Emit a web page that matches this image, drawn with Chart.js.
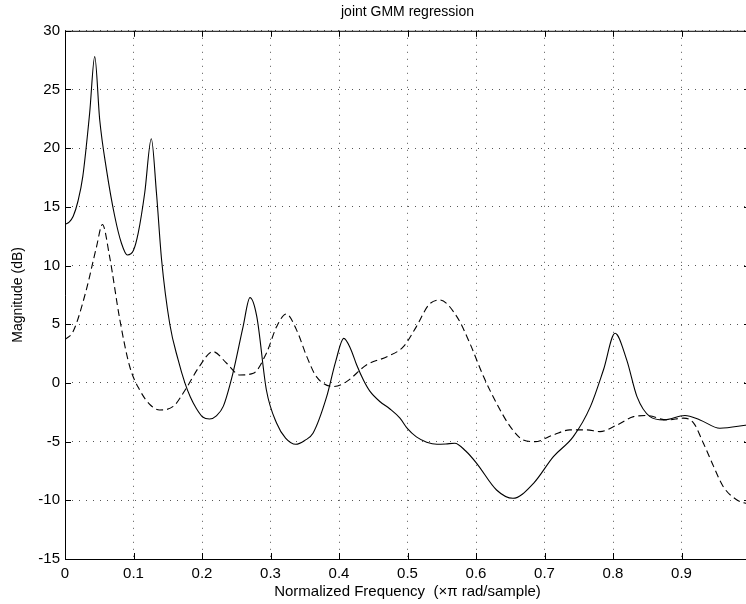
<!DOCTYPE html>
<html>
<head>
<meta charset="utf-8">
<script src="https://cdn.jsdelivr.net/npm/chart.js@4/dist/chart.umd.min.js"></script>
<style>
html,body{margin:0;padding:0;background:#fff;overflow:hidden;}
#wrap{width:750px;height:604px;}
</style>
</head>
<body>
<div id="wrap"><canvas id="c" width="750" height="604"></canvas></div>
<script>
const titleText = "joint GMM regression";
const xLabel = "Normalized Frequency  (\u00d7\u03c0 rad/sample)";
const yLabel = "Magnitude (dB)";
const xTicks = [0, 0.1, 0.2, 0.3, 0.4, 0.5, 0.6, 0.7, 0.8, 0.9];
const yTicks = [-15, -10, -5, 0, 5, 10, 15, 20, 25, 30];

const solidX = [0, 0.006, 0.012, 0.019, 0.026, 0.036, 0.0434, 0.0507, 0.0605, 0.0726, 0.0824, 0.091, 0.100, 0.107, 0.1164, 0.126, 0.1335, 0.141, 0.153, 0.165, 0.175, 0.183, 0.192, 0.201, 0.211, 0.221, 0.231, 0.245, 0.26, 0.270, 0.28, 0.294, 0.309, 0.322, 0.337, 0.35, 0.362, 0.382, 0.395, 0.407, 0.417, 0.426, 0.436, 0.445, 0.46, 0.474, 0.489, 0.50, 0.513, 0.528, 0.543, 0.556, 0.569, 0.585, 0.601, 0.630, 0.654, 0.684, 0.713, 0.742, 0.767, 0.786, 0.803, 0.820, 0.835, 0.854, 0.874, 0.905, 0.927, 0.956, 0.996];
const solidY = [13.5, 13.7, 14.2, 15.5, 17.6, 23.0, 27.8, 22.4, 18.2, 14.2, 11.9, 10.9, 11.3, 12.8, 16.2, 20.8, 16.2, 10.5, 5.0, 2.0, 0.0, -1.2, -2.2, -2.9, -3.07, -2.8, -2.0, 0.8, 4.8, 7.27, 5.65, -0.6, -3.44, -4.7, -5.23, -4.9, -4.29, -1.17, 1.8, 3.8, 2.9, 1.5, 0.2, -0.7, -1.6, -2.2, -3.0, -3.9, -4.6, -5.05, -5.23, -5.2, -5.14, -5.8, -6.85, -9.12, -9.83, -8.55, -6.28, -4.58, -2.02, 1.1, 4.23, 1.96, -1.17, -2.87, -3.15, -2.78, -3.15, -3.86, -3.58];

const dashedX = [0, 0.012, 0.031, 0.046, 0.0546, 0.065, 0.080, 0.0945, 0.109, 0.125, 0.138, 0.158, 0.177, 0.195, 0.216, 0.236, 0.255, 0.275, 0.294, 0.309, 0.323, 0.338, 0.353, 0.367, 0.392, 0.411, 0.440, 0.470, 0.494, 0.513, 0.531, 0.547, 0.572, 0.591, 0.611, 0.630, 0.650, 0.669, 0.686, 0.713, 0.737, 0.762, 0.781, 0.806, 0.830, 0.849, 0.879, 0.903, 0.918, 0.932, 0.947, 0.961, 0.981, 0.996];
const dashedY = [3.7, 4.4, 7.9, 11.6, 13.5, 10.8, 5.4, 1.4, -0.6, -1.9, -2.3, -2.0, -0.45, 1.3, 2.67, 1.68, 0.68, 0.82, 2.53, 4.8, 5.88, 4.52, 2.24, 0.54, -0.31, 0.11, 1.53, 2.24, 3.09, 4.8, 6.65, 7.07, 5.65, 3.38, 0.54, -1.73, -3.72, -4.86, -5.0, -4.43, -4.0, -4.0, -4.15, -3.58, -2.87, -2.78, -3.15, -3.0, -3.44, -5.14, -7.13, -8.84, -9.97, -10.3];

const toPts = (xs, ys) => xs.map((x, i) => ({x: x, y: ys[i]}));
const FONT = "'Liberation Sans', Arial, Helvetica, sans-serif";

const framePlugin = {
  id: 'frame',
  afterDatasetsDraw(chart) {
    const {ctx, chartArea: a, scales} = chart;
    ctx.save();
    ctx.strokeStyle = '#000';
    ctx.lineWidth = 1;
    ctx.setLineDash([]);
    ctx.beginPath();
    ctx.moveTo(a.left + 0.5, a.top + 0.5);
    ctx.lineTo(a.right, a.top + 0.5);
    ctx.moveTo(a.left + 0.5, a.top);
    ctx.lineTo(a.left + 0.5, a.bottom + 0.5);
    ctx.lineTo(a.right, a.bottom + 0.5);
    const tl = 6;
    xTicks.forEach(v => {
      const px = Math.round(scales.x.getPixelForValue(v)) + 0.5;
      ctx.moveTo(px, a.bottom);
      ctx.lineTo(px, a.bottom - tl);
      ctx.moveTo(px, a.top);
      ctx.lineTo(px, a.top + tl);
    });
    yTicks.forEach(v => {
      const py = Math.round(scales.y.getPixelForValue(v)) + 0.5;
      ctx.moveTo(a.left, py);
      ctx.lineTo(a.left + tl, py);
      ctx.moveTo(a.right, py);
      ctx.lineTo(a.right - tl, py);
    });
    ctx.stroke();
    ctx.restore();
  }
};

new Chart(document.getElementById('c'), {
  type: 'line',
  data: {
    datasets: [
      {
        data: toPts(solidX, solidY),
        borderColor: '#000',
        borderWidth: 1.1,
        pointRadius: 0,
        fill: false,
        cubicInterpolationMode: 'monotone'
      },
      {
        data: toPts(dashedX, dashedY),
        borderColor: '#000',
        borderWidth: 1.1,
        borderDash: [7, 4],
        pointRadius: 0,
        fill: false,
        cubicInterpolationMode: 'monotone'
      }
    ]
  },
  options: {
    responsive: false,
    animation: false,
    layout: {padding: 0},
    plugins: {
      legend: {display: false},
      tooltip: {enabled: false},
      title: {
        display: true,
        text: titleText,
        color: '#000',
        fullSize: false,
        font: {family: FONT, size: 14, weight: 'normal'},
        padding: {top: 4, bottom: 10}
      }
    },
    scales: {
      x: {
        type: 'linear',
        min: 0,
        max: 1,
        afterBuildTicks: s => { s.ticks = xTicks.map(v => ({value: v})); },
        afterFit: s => { s.height = 45; },
        ticks: {
          color: '#000',
          font: {family: FONT, size: 15},
          padding: 6,
          maxRotation: 0,
          autoSkip: false,
          callback: v => (v === 0 ? '0' : String(Math.round(v * 10) / 10))
        },
        grid: {color: '#555', lineWidth: 1, drawTicks: false},
        border: {display: false, dash: [1, 6]},
        title: {
          display: true,
          text: xLabel,
          color: '#000',
          font: {family: FONT, size: 15},
          padding: {top: 0, bottom: 3}
        }
      },
      y: {
        type: 'linear',
        min: -15,
        max: 30,
        afterBuildTicks: s => { s.ticks = yTicks.map(v => ({value: v})); },
        afterFit: s => { s.width = 65; },
        ticks: {
          color: '#000',
          font: {family: FONT, size: 15},
          padding: 5
        },
        grid: {color: '#555', lineWidth: 1, drawTicks: false},
        border: {display: false, dash: [1, 6]},
        title: {
          display: true,
          text: yLabel,
          color: '#000',
          font: {family: FONT, size: 14},
          padding: {top: 10, bottom: 0}
        }
      }
    }
  },
  plugins: [framePlugin]
});
</script>
</body>
</html>
